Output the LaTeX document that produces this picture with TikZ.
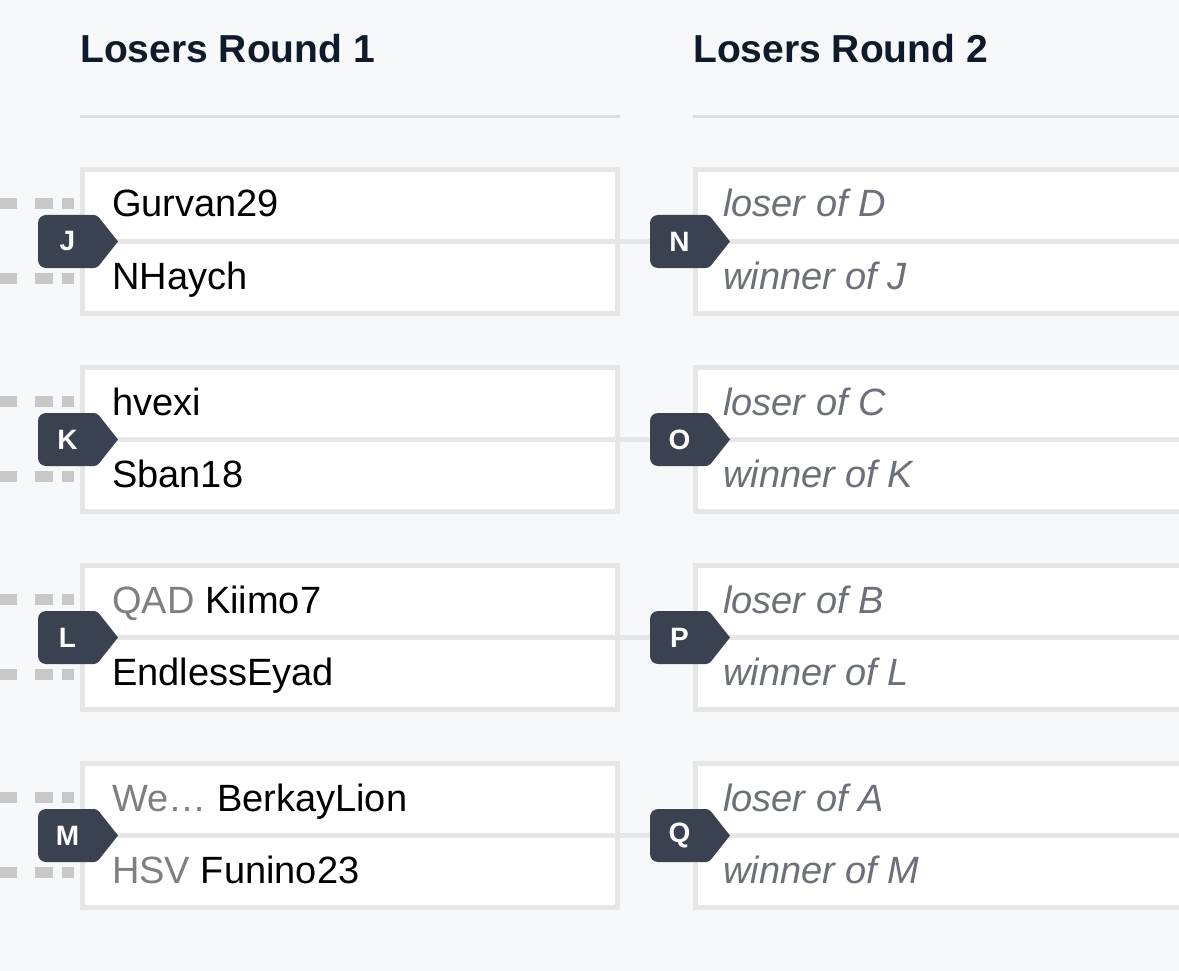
\documentclass[tikz,border=0pt]{standalone}
\usepackage{fontspec}
\setmainfont{Liberation Sans}
\usetikzlibrary{calc}
\definecolor{bgcol}{HTML}{F7F8FA}
\definecolor{boxcol}{HTML}{E6E6E6}
\definecolor{headcol}{HTML}{0F1A2A}
\definecolor{headline}{HTML}{DCDDE1}
\definecolor{dotcol}{HTML}{C8C8C8}
\definecolor{badgecol}{HTML}{3A4150}
\definecolor{prefixcol}{HTML}{7F7F7F}
\definecolor{tbdcol}{HTML}{6B7079}
\tikzset{
  matchbox/.style={draw=boxcol, fill=white, line width=5pt, inner sep=0pt, minimum height=144pt},
  leftbox/.style={matchbox, minimum width=535pt},
  rightbox/.style={matchbox, minimum width=520pt},
  divider/.style={draw=boxcol, line width=5pt},
  conn/.style={draw=boxcol, line width=5pt},
  headtext/.style={anchor=base west, inner sep=0pt, text=headcol, font=\bfseries\fontsize{39}{46}\selectfont},
  hline/.style={draw=headline, line width=3pt},
  player/.style={anchor=base west, inner sep=0pt, text=black, font=\fontsize{38}{45}\selectfont},
  tbd/.style={anchor=base west, inner sep=0pt, text=tbdcol, font=\itshape\fontsize{38}{45}\selectfont},
  badgetext/.style={text=white, inner sep=0pt, font=\bfseries\fontsize{28}{32}\selectfont},
  dotfill/.style={fill=dotcol}
}
\newcommand{\pfx}[1]{{\color{prefixcol}#1}}
% #1 badge name, #2 tip x, #3 tip y, #4 letter
\newcommand{\badgeat}[4]{%
  \begin{scope}[shift={(#2,#3)}]
    \fill[badgecol] (0,0) [rounded corners=3pt] -- (-21,-26.5) [rounded corners=8pt] -- (-80,-26.5) -- (-80,26.5) [rounded corners=3pt] -- (-21,26.5) [sharp corners] -- cycle;
    \node[badgetext] (#1) at (-50.5,0) {#4};
  \end{scope}}
% #1 top y of box
\newcommand{\leftdots}[1]{%
  \begin{scope}[shift={(0,#1)}]
    \foreach \yy in {31,106}{
      \fill[dotfill] (-2,\yy) rectangle (17,\yy+11);
      \fill[dotfill] (35,\yy) rectangle (53,\yy+11);
      \fill[dotfill] (62,\yy) rectangle (74,\yy+11);
    }
  \end{scope}}
\begin{document}
\begin{tikzpicture}[x=1pt, y=-1pt]
\useasboundingbox (0,0) rectangle (1179,971);
\clip (0,0) rectangle (1179,971);
\fill[bgcol] (0,0) rectangle (1179,971);

% headers
\node[headtext] (h1) at (80,63) {Losers Round 1};
\node[headtext] (h2) at (693,63) {Losers Round 2};
\draw[hline] (80,117) -- (620,117);
\draw[hline] (693,117) -- (1190,117);

% dots on the left
\leftdots{167}
\leftdots{365}
\leftdots{563}
\leftdots{761}

% boxes, round 1
\node[leftbox] (Jbox) at (350,241.5) {};
\node[leftbox] (Kbox) at (350,439.5) {};
\node[leftbox] (Lbox) at (350,637.5) {};
\node[leftbox] (Mbox) at (350,835.5) {};
% boxes, round 2
\node[rightbox] (Nbox) at (955.5,241.5) {};
\node[rightbox] (Obox) at (955.5,439.5) {};
\node[rightbox] (Pbox) at (955.5,637.5) {};
\node[rightbox] (Qbox) at (955.5,835.5) {};

% dividers
\foreach \b in {Jbox,Kbox,Lbox,Mbox,Nbox,Obox,Pbox,Qbox}{
  \draw[divider] (\b.west) -- (\b.east);
}

% connectors
\draw[conn] (Jbox.east) -- (Nbox.west);
\draw[conn] (Kbox.east) -- (Obox.west);
\draw[conn] (Lbox.east) -- (Pbox.west);
\draw[conn] (Mbox.east) -- (Qbox.west);

% badges
\badgeat{J}{118}{241.5}{J}
\badgeat{K}{118}{439.5}{K}
\badgeat{L}{118}{637.5}{L}
\badgeat{M}{118}{835.5}{M}
\badgeat{N}{730}{241.5}{N}
\badgeat{O}{730}{439.5}{O}
\badgeat{P}{730}{637.5}{P}
\badgeat{Q}{730}{835.5}{Q}

% players, round 1
\node[player] (J1) at (112,217) {Gurvan29};
\node[player] (J2) at (112,289) {NHaych};
\node[player] (K1) at (112,415) {hvexi};
\node[player] (K2) at (112,487) {Sban18};
\node[player] (L1) at (112,613) {\pfx{QAD} Kiimo7};
\node[player] (L2) at (112,685) {EndlessEyad};
\node[player] (M1) at (112,811) {\pfx{We…} BerkayLion};
\node[player] (M2) at (112,883) {\pfx{HSV} Funino23};

% round 2 placeholders
\node[tbd] (N1) at (723,217) {loser of D};
\node[tbd] (N2) at (723,289) {winner of J};
\node[tbd] (O1) at (723,415) {loser of C};
\node[tbd] (O2) at (723,487) {winner of K};
\node[tbd] (P1) at (723,613) {loser of B};
\node[tbd] (P2) at (723,685) {winner of L};
\node[tbd] (Q1) at (723,811) {loser of A};
\node[tbd] (Q2) at (723,883) {winner of M};
\end{tikzpicture}
\end{document}
